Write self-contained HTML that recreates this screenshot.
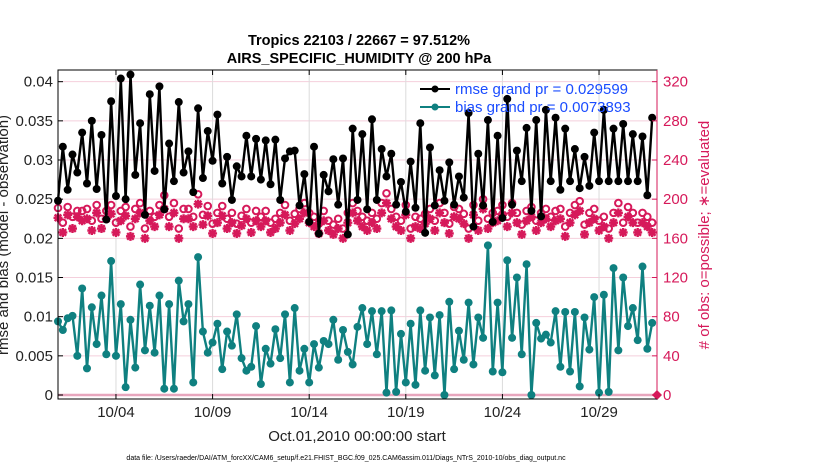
<!DOCTYPE html>
<html><head><meta charset="utf-8"><style>
html,body{margin:0;padding:0;background:#fff;}
svg{display:block;font-family:"Liberation Sans",sans-serif;}
</style></head><body>
<svg id="chart" width="830" height="470" viewBox="0 0 830 470" xmlns="http://www.w3.org/2000/svg">
<text x="359" y="45" text-anchor="middle" font-size="14.5" font-weight="bold" fill="#000">Tropics 22103 / 22667 = 97.512%</text>
<text x="359" y="63" text-anchor="middle" font-size="14.5" font-weight="bold" fill="#000">AIRS_SPECIFIC_HUMIDITY @ 200 hPa</text>
<g id="grid"></g>
<g id="marks"></g>
<rect x="58" y="70" width="599" height="329" fill="none" stroke="#000" stroke-width="1"/>
<line x1="657" y1="70" x2="657" y2="399" stroke="#d6195a" stroke-width="1"/>
<g id="axes"></g>
<g>
<line x1="420" y1="89" x2="450" y2="89" stroke="#000" stroke-width="2"/>
<circle cx="435" cy="89" r="3.5" fill="#000"/>
<text x="455" y="94" font-size="15" fill="#1a4cff">rmse grand pr = 0.029599</text>
<line x1="420" y1="107" x2="450" y2="107" stroke="#0f8080" stroke-width="2"/>
<circle cx="435" cy="107" r="3.5" fill="#0f8080"/>
<text x="455" y="112" font-size="15" fill="#1a4cff">bias grand pr = 0.0073893</text>
</g>
<text transform="translate(8,235) rotate(-90)" text-anchor="middle" font-size="15" fill="#222">rmse and bias (model - observation)</text>
<text transform="translate(709,235) rotate(-90)" text-anchor="middle" font-size="15" fill="#d6195a"># of obs: o=possible; ∗=evaluated</text>
<text x="357" y="441" text-anchor="middle" font-size="15" fill="#222">Oct.01,2010 00:00:00 start</text>
<text x="346" y="460" text-anchor="middle" font-size="7" fill="#000">data file: /Users/raeder/DAI/ATM_forcXX/CAM6_setup/f.e21.FHIST_BGC.f09_025.CAM6assim.011/Diags_NTrS_2010-10/obs_diag_output.nc</text>
</svg>
<script>
const rmse = [.0248,.0317,.0262,.0307,.0284,.0335,.0270,.0350,.0263,.0332,.0224,.0375,.0254,.0404,.0250,.0409,.0281,.0347,.0230,.0384,.0286,.0394,.0237,.0321,.0273,.0374,.0284,.0311,.0259,.0366,.0277,.0337,.0299,.0358,.0270,.0304,.0249,.0292,.0279,.0331,.0279,.0327,
.0275,.0325,.0269,.0326,.0249,.0302,.0311,.0312,.0242,.0282,.0221,.0317,.0206,.0281,.0260,.0301,.0243,.0302,.0205,.0340,.0249,.0333,.0237,.0352,.0249,.0314,.0279,.0308,.0243,.0272,.0234,.0298,.0239,.0347,.0207,.0316,.0242,.0287,.0248,.0297,.0243,.0279,
.0252,.0360,.0215,.0308,.0242,.0351,.0221,.0331,.0226,.0378,.0243,.0312,.0273,.0341,.0235,.0351,.0228,.0364,.0273,.0354,.0262,.0340,.0273,.0314,.0264,.0304,.0267,.0335,.0273,.0364,.0273,.0340,.0273,.0346,.0273,.0333,.0273,.0330,.0255,.0354];
const bias = [.0094,.0083,.0098,.0101,.0050,.0136,.0034,.0112,.0065,.0127,.0052,.0171,.0050,.0116,.0010,.0096,.0035,.0141,.0057,.0114,.0054,.0127,.0008,.0116,.0008,.0146,.0094,.0116,.0016,.0176,.0081,.0054,.0067,.0091,.0033,.0081,.0063,.0103,.0047,.0031,.0036,.0088,
.0014,.0059,.0040,.0084,.0047,.0103,.0016,.0111,.0031,.0059,.0016,.0065,.0035,.0069,.0065,.0096,.0045,.0083,.0055,.0039,.0087,.0111,.0065,.0107,.0052,.0107,.0003,.0108,.0004,.0078,.0016,.0091,.0013,.0108,.0031,.0099,.0025,.0102,.0000,.0119,.0033,
.0082,.0045,.0118,.0039,.0099,.0073,.0191,.0030,.0118,.0029,.0172,.0073,.0150,.0052,.0167,.0000,.0092,.0072,.0077,.0067,.0107,.0036,.0106,.0030,.0106,.0011,.0099,.0058,.0125,.0003,.0128,.0004,.0162,.0057,.0150,.0088,.0111,.0070,.0164,.0059,.0092];
const evaluated = [181,166,184,170,182,178,180,168,186,170,180,185,166,178,183,162,180,186,160,178,172,184,190,172,186,160,180,180,172,195,174,183,165,176,183,170,176,165,173,180,166,178,
172,178,166,170,176,184,168,175,180,186,176,172,165,178,168,164,170,160,176,186,178,172,168,176,170,186,196,180,172,168,184,160,172,170,175,180,168,186,176,165,182,180,
175,160,184,168,190,170,176,178,184,172,186,176,164,178,182,168,176,180,172,178,180,162,176,184,188,164,176,180,168,172,160,176,186,166,182,176,166,176,172,166];
const possible = [191,176,192,182,188,188,190,178,194,180,188,194,176,188,192,172,190,196,170,188,182,194,204,182,196,170,190,190,182,205,184,193,175,186,193,180,186,175,183,190,176,188,
182,188,176,180,186,194,178,185,190,196,186,182,175,188,178,174,180,170,186,196,188,182,178,186,180,196,206,190,182,178,194,170,182,180,185,190,178,196,186,175,192,190,
185,170,194,178,200,180,186,188,194,182,196,186,174,188,192,178,186,190,182,188,190,172,186,194,198,174,186,190,178,182,170,186,196,176,192,186,176,186,182,176];
const leftTicks = [0,0.005,0.01,0.015,0.02,0.025,0.03,0.035,0.04];
const leftTickLabels = ["0","0.005","0.01","0.015","0.02","0.025","0.03","0.035","0.04"];
const rightTicks = [0,40,80,120,160,200,240,280,320];
const dateTicks = [3,8,13,18,23,28];
const dateLabels = ["10/04","10/09","10/14","10/19","10/24","10/29"];
const stepDays = 0.25;

const NS = "http://www.w3.org/2000/svg";
const X0 = 58, X1 = 657, DAYS = 31;
const Y0 = 395, PXPERUNIT = 7833;
function xScale(d){ return X0 + d * (X1 - X0) / DAYS; }
function yLeft(v){ return Y0 - v * PXPERUNIT; }
function yRight(c){ return Y0 - c * (PXPERUNIT * 0.04 / 320); }
function mk(tag, attrs, parent){ const e = document.createElementNS(NS, tag); for (const k in attrs) e.setAttribute(k, attrs[k]); parent.appendChild(e); return e; }

const grid = document.getElementById('grid'), marks = document.getElementById('marks'), axes = document.getElementById('axes');

leftTicks.forEach((v, i) => {
  const y = yLeft(v);
  const g = mk('line', {x1: X0, x2: X1, y1: y, y2: y, stroke: i === 0 ? '#e7a6bd' : '#f4cfdc', 'stroke-width': i === 0 ? 2.5 : 1}, grid);
  
  
  mk('line', {x1: X0, x2: X0 + 5, y1: y, y2: y, stroke: '#000'}, axes);
  const t = mk('text', {x: X0 - 5, y: y + 5, 'text-anchor': 'end', 'font-size': 15, fill: '#222'}, axes);
  t.textContent = leftTickLabels[i];
  
  
});
rightTicks.forEach(c => {
  const y = yRight(c);
  mk('line', {x1: X1 - 5, x2: X1, y1: y, y2: y, stroke: '#d6195a'}, axes);
  const t = mk('text', {x: X1 + 6, y: y + 5, 'font-size': 15, fill: '#d6195a'}, axes);
  t.textContent = String(c);
  
  
});
dateTicks.forEach((d, i) => {
  const x = xScale(d);
  const g = mk('line', {x1: x, x2: x, y1: 70, y2: 399, stroke: '#dcdcdc', 'stroke-width': 1}, grid);
  
  
  mk('line', {x1: x, x2: x, y1: 399, y2: 394, stroke: '#000'}, axes);
  mk('line', {x1: x, x2: x, y1: 70, y2: 75, stroke: '#000'}, axes);
  const t = mk('text', {x: x, y: 417, 'text-anchor': 'middle', 'font-size': 15, fill: '#222'}, axes);
  t.textContent = dateLabels[i];
  
  
});

const crim = '#d6195a';
evaluated.forEach((c, i) => {
  const x = xScale(i * stepDays), y = yRight(c);
  const g = mk('path', {d: `M${x-4.5} ${y}H${x+4.5}M${x} ${y-4.5}V${y+4.5}M${x-3.3} ${y-3.3}L${x+3.3} ${y+3.3}M${x-3.3} ${y+3.3}L${x+3.3} ${y-3.3}`, stroke: crim, 'stroke-width': 2.4}, marks);
  
  
});
possible.forEach((c, i) => {
  const x = xScale(i * stepDays), y = yRight(c);
  const g = mk('circle', {cx: x, cy: y, r: 3.3, fill: 'none', stroke: crim, 'stroke-width': 2}, marks);
  
  
});

function series(vals, color, name){
  const pts = vals.map((v, i) => xScale(i * stepDays).toFixed(1) + ',' + yLeft(v).toFixed(1)).join(' ');
  const pl = mk('polyline', {points: pts, fill: 'none', stroke: color, 'stroke-width': 2.4, 'stroke-linejoin': 'round'}, marks);
  
  
  vals.forEach((v, i) => {
    const c = mk('circle', {cx: xScale(i * stepDays), cy: yLeft(v), r: 4, fill: color}, marks);
    
    
  });
}
series(rmse, '#000', 'rmse');
series(bias, '#0f8080', 'bias');

const dm = mk('path', {d: `M${X1} ${Y0-5}L${X1+5} ${Y0}L${X1} ${Y0+5}L${X1-5} ${Y0}Z`, fill: crim}, marks);


</script>
</body></html>
